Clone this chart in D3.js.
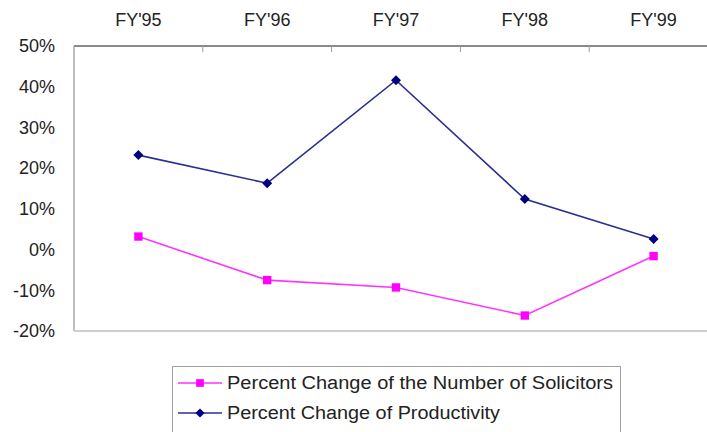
<!DOCTYPE html>
<html>
<head>
<meta charset="utf-8">
<script src="https://cdn.jsdelivr.net/npm/d3@7"></script>
<style>
  html, body { margin: 0; padding: 0; background: #fff; }
  svg { display: block; font-family: "Liberation Sans", Arial, sans-serif; }
</style>
</head>
<body>
<svg id="chart" width="707" height="432"></svg>
<script>
// Fiscal years shown along the top axis
const years = ["FY'95", "FY'96", "FY'97", "FY'98", "FY'99"];
// Percent change in the number of solicitors
const solicitors = [3.2, -7.5, -9.3, -16.2, -1.6];
// Percent change in productivity
const productivity = [23.2, 16.3, 41.6, 12.4, 2.6];
// Value axis ticks (percent)
const yTicks = [50, 40, 30, 20, 10, 0, -10, -20];

// Square rotated 45 degrees: an even-sided diamond marker
const evenDiamond = {
  draw(context, size) {
    const r = Math.sqrt(size / 2);
    context.moveTo(0, -r);
    context.lineTo(r, 0);
    context.lineTo(0, r);
    context.lineTo(-r, 0);
    context.closePath();
  }
};

const seriesList = [
  { name: "Percent Change of the Number of Solicitors", values: solicitors, color: "#ff00ff", line: "#ff33ff", symbol: d3.symbolSquare, size: 70, legendWidth: 386 },
  { name: "Percent Change of Productivity", values: productivity, color: "#000080", line: "#2b2f8f", symbol: evenDiamond, size: 50, legendWidth: 273 }
];

const svg = d3.select("#chart");
const plot = { left: 74, top: 46, right: 718, bottom: 331 };
const fontSize = 18;

const x = d3.scaleBand().domain(years).range([plot.left, plot.right]);
const y = d3.scaleLinear().domain([-20, 50]).range([plot.bottom, plot.top]);
const cx = d => x(d) + x.bandwidth() / 2;

// Plot frame: left, top and bottom edges
svg.append("line").attr("x1", plot.left).attr("x2", plot.left)
  .attr("y1", plot.top).attr("y2", plot.bottom)
  .attr("stroke", "#a8a8a8").attr("stroke-width", 1.5);
svg.append("line").attr("x1", plot.left).attr("x2", 707)
  .attr("y1", plot.bottom).attr("y2", plot.bottom)
  .attr("stroke", "#cfcfcf").attr("stroke-width", 2);
svg.append("line").attr("x1", plot.left).attr("x2", 707)
  .attr("y1", plot.top).attr("y2", plot.top)
  .attr("stroke", "#8a8a8a").attr("stroke-width", 2);

// Category boundary ticks hanging from the top axis
svg.append("g").selectAll("line")
  .data(years.slice(1))
  .join("line")
  .attr("x1", d => x(d)).attr("x2", d => x(d))
  .attr("y1", plot.top).attr("y2", plot.top + 6)
  .attr("stroke", "#9a9a9a").attr("stroke-width", 1);

// Category labels above the plot
const xAxis = svg.append("g")
  .attr("transform", `translate(0,${plot.top})`)
  .call(d3.axisTop(x).tickSize(0).tickPadding(20));
xAxis.select(".domain").remove();
xAxis.selectAll("text")
  .attr("font-size", fontSize).attr("fill", "#222")
  .attr("font-family", "'Liberation Sans', Arial, sans-serif");

// Percent labels on the left
const yAxis = svg.append("g")
  .attr("transform", `translate(${plot.left},0)`)
  .call(d3.axisLeft(y).tickValues(yTicks).tickSize(0).tickPadding(19)
    .tickFormat(d => d + "%"));
yAxis.select(".domain").remove();
yAxis.selectAll("text")
  .attr("font-size", fontSize).attr("fill", "#222")
  .attr("font-family", "'Liberation Sans', Arial, sans-serif");

// Lines and markers
const lineGen = d3.line().x((d, i) => cx(years[i])).y(d => y(d));
seriesList.forEach(s => {
  svg.append("path")
    .datum(s.values)
    .attr("d", lineGen)
    .attr("fill", "none")
    .attr("stroke", s.line)
    .attr("stroke-width", 1.6);
  svg.append("g").selectAll("path")
    .data(s.values)
    .join("path")
    .attr("transform", (d, i) => `translate(${cx(years[i])},${y(d)})`)
    .attr("d", d3.symbol().type(s.symbol).size(s.size))
    .attr("fill", s.color);
});

// Legend
const legend = svg.append("g");
legend.append("rect")
  .attr("x", 172.5).attr("y", 366.5)
  .attr("width", 448).attr("height", 90)
  .attr("fill", "#fff").attr("stroke", "#a0a0a0").attr("stroke-width", 1);
seriesList.forEach((s, i) => {
  const ly = 383 + i * 30;
  legend.append("line")
    .attr("x1", 178).attr("x2", 222).attr("y1", ly).attr("y2", ly)
    .attr("stroke", s.line).attr("stroke-width", 1.6);
  legend.append("path")
    .attr("transform", `translate(200,${ly})`)
    .attr("d", d3.symbol().type(s.symbol).size(s.size * 0.85))
    .attr("fill", s.color);
  legend.append("text")
    .attr("x", 227).attr("y", ly).attr("dy", "0.35em")
    .attr("font-size", fontSize).attr("fill", "#222")
    .attr("textLength", s.legendWidth)
    .attr("lengthAdjust", "spacingAndGlyphs")
    .text(s.name);
});
</script>
</body>
</html>
